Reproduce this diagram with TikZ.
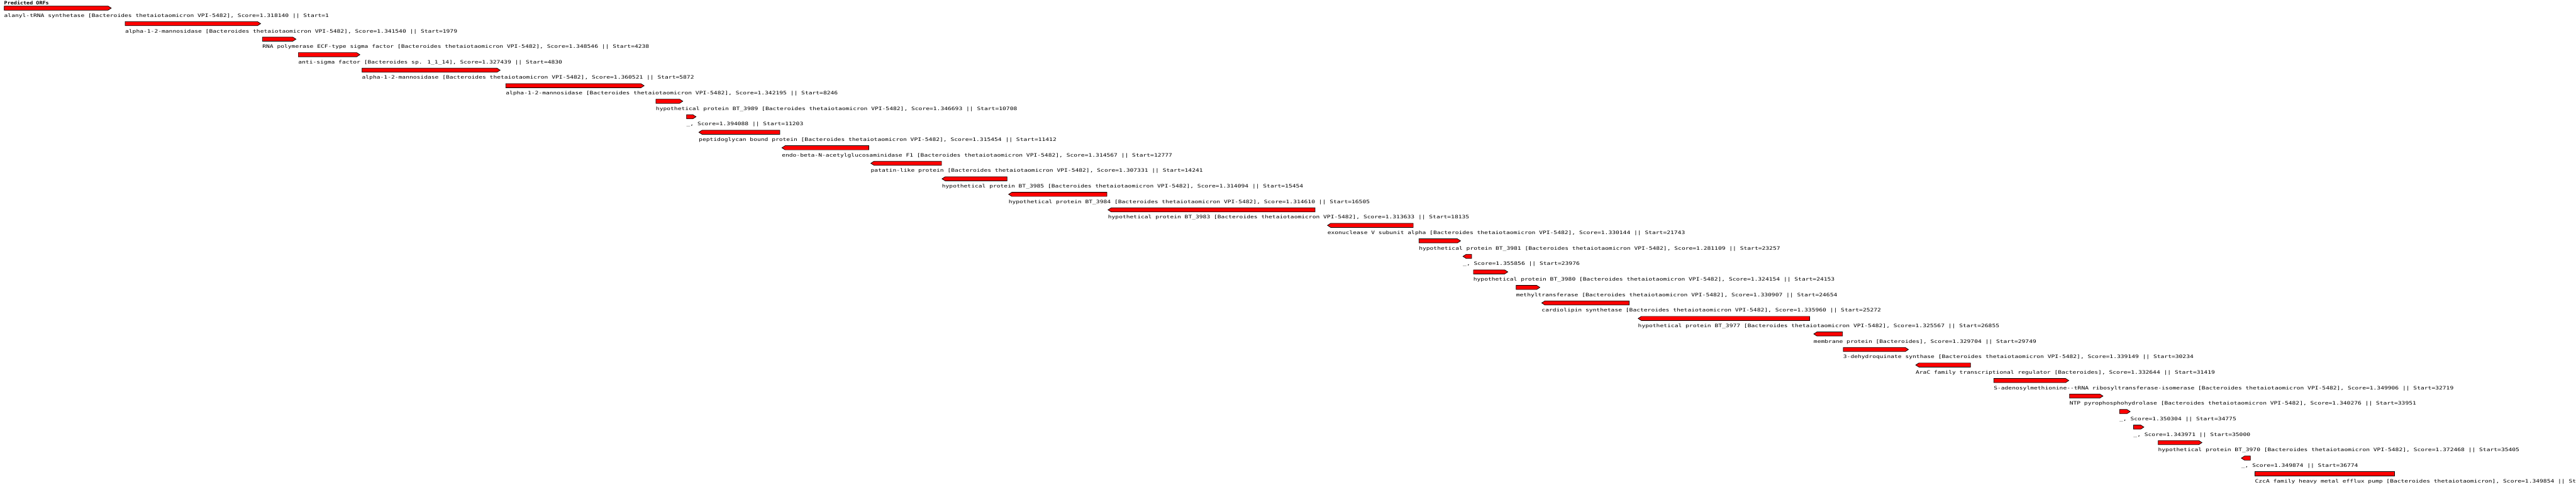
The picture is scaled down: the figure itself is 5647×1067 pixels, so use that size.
\documentclass[tikz,border=0pt]{standalone}
\usepackage{fontspec}
\newfontfamily\orffont[FakeStretch=1.29]{DejaVu Sans Mono}
\newfontfamily\orfhead[FakeStretch=1.13]{DejaVu Sans Mono}
\definecolor{orfred}{RGB}{255,0,0}
\newcommand\btv{[Bacteroides thetaiotaomicron VPI-5482]}
\tikzset{
  orfbar/.style={fill=orfred, draw=black, line width=1pt, line join=miter},
  orflabel/.style={anchor=base west, inner sep=0pt, outer sep=0pt, text=black,
    font=\orffont\fontsize{10.3}{12}\selectfont},
  headlabel/.style={anchor=base west, inner sep=0pt, outer sep=0pt, text=black,
    font=\orfhead\bfseries\fontsize{10.3}{12}\selectfont}
}
\newcommand\orfrow[5]{%
  \pgfmathsetmacro\yt{13.3+34*#1}%
  \pgfmathsetmacro\yb{\yt+9}%
  \pgfmathsetmacro\ym{\yt+4.5}%
  \pgfmathsetmacro\ybase{\yt+24.4}%
  \ifx R#4\draw[orfbar] (#2,\yt) -- (#3-7,\yt) -- (#3,\ym) -- (#3-7,\yb) -- (#2,\yb) -- cycle;\fi
  \ifx L#4\draw[orfbar] (#3,\yt) -- (#2+7,\yt) -- (#2,\ym) -- (#2+7,\yb) -- (#3,\yb) -- cycle;\fi
  \ifx N#4\draw[orfbar] (#2,\yt) rectangle (#3,\yb);\fi
  \node[orflabel] (lab#1) at (#2,\ybase) {#5};%
}
\begin{document}
\begin{tikzpicture}[x=1pt,y=-1pt]
\useasboundingbox[fill=white] (0,0) rectangle (5647,1067);
\node[headlabel] (head) at (9.2,10.7) {Predicted ORFs};
\orfrow{0}{9.2}{243.9}{R}{alanyl-tRNA synthetase \btv, Score=1.318140 || Start=1}
\orfrow{1}{274.5}{571.4}{R}{alpha-1-2-mannosidase \btv, Score=1.341540 || Start=1979}
\orfrow{2}{575.3}{648.8}{R}{RNA polymerase ECF-type sigma factor \btv, Score=1.348546 || Start=4238}
\orfrow{3}{654}{789}{R}{anti-sigma factor [Bacteroides sp. 1\_1\_14], Score=1.327439 || Start=4830}
\orfrow{4}{793.6}{1096.4}{R}{alpha-1-2-mannosidase \btv, Score=1.360521 || Start=5872}
\orfrow{5}{1108.8}{1412}{R}{alpha-1-2-mannosidase \btv, Score=1.342195 || Start=8246}
\orfrow{6}{1437.9}{1496.8}{R}{hypothetical protein BT\_3989 \btv, Score=1.346693 || Start=10708}
\orfrow{7}{1505}{1525.8}{R}{\_, Score=1.394088 || Start=11203}
\orfrow{8}{1532}{1709.5}{L}{peptidoglycan bound protein \btv, Score=1.315454 || Start=11412}
\orfrow{9}{1714}{1904.5}{L}{endo-beta-N-acetylglucosaminidase F1 \btv, Score=1.314567 || Start=12777}
\orfrow{10}{1909}{2064}{L}{patatin-like protein \btv, Score=1.307331 || Start=14241}
\orfrow{11}{2065}{2207.5}{L}{hypothetical protein BT\_3985 \btv, Score=1.314094 || Start=15454}
\orfrow{12}{2211}{2426.5}{L}{hypothetical protein BT\_3984 \btv, Score=1.314610 || Start=16505}
\orfrow{13}{2429}{2882.6}{L}{hypothetical protein BT\_3983 \btv, Score=1.313633 || Start=18135}
\orfrow{14}{2910}{3098}{L}{exonuclease V subunit alpha \btv, Score=1.330144 || Start=21743}
\orfrow{15}{3110.6}{3201.8}{R}{hypothetical protein BT\_3981 \btv, Score=1.281109 || Start=23257}
\orfrow{16}{3207}{3226}{L}{\_, Score=1.355856 || Start=23976}
\orfrow{17}{3230}{3305.3}{R}{hypothetical protein BT\_3980 \btv, Score=1.324154 || Start=24153}
\orfrow{18}{3323.7}{3375.6}{R}{methyltransferase \btv, Score=1.330907 || Start=24654}
\orfrow{19}{3379.7}{3571.5}{L}{cardiolipin synthetase \btv, Score=1.335960 || Start=25272}
\orfrow{20}{3591}{3967}{L}{hypothetical protein BT\_3977 \btv, Score=1.325567 || Start=26855}
\orfrow{21}{3976}{4039}{L}{membrane protein [Bacteroides], Score=1.329704 || Start=29749}
\orfrow{22}{4040.7}{4183.5}{R}{3-dehydroquinate synthase \btv, Score=1.339149 || Start=30234}
\orfrow{23}{4199.5}{4319.5}{L}{AraC family transcriptional regulator [Bacteroides], Score=1.332644 || Start=31419}
\orfrow{24}{4370.7}{4535}{R}{S-adenosylmethionine{-}{-}tRNA ribosyltransferase-isomerase \btv, Score=1.349906 || Start=32719}
\orfrow{25}{4536.8}{4610}{R}{NTP pyrophosphohydrolase \btv, Score=1.340276 || Start=33951}
\orfrow{26}{4646.3}{4669.7}{R}{\_, Score=1.350304 || Start=34775}
\orfrow{27}{4677}{4699.7}{R}{\_, Score=1.343971 || Start=35000}
\orfrow{28}{4731}{4827}{R}{hypothetical protein BT\_3970 \btv, Score=1.372468 || Start=35405}
\orfrow{29}{4913.3}{4933}{L}{\_, Score=1.349874 || Start=36774}
\orfrow{30}{4943.3}{5249}{N}{CzcA family heavy metal efflux pump [Bacteroides thetaiotaomicron], Score=1.349854 || St}
\end{tikzpicture}
\end{document}
